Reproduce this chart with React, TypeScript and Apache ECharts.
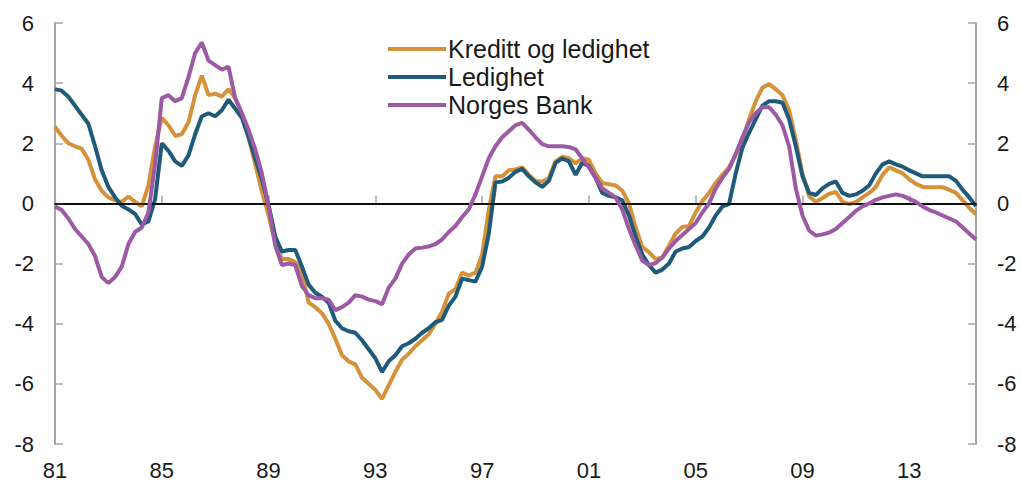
import React, { useEffect, useRef } from "react";
import * as echarts from "echarts";

const startYear = 1981;
const quarterCount = 139; // 1981K1 .. 2015K3
const tickLabels = ["81", "85", "89", "93", "97", "01", "05", "09", "13"];

const kredittOgLedighet = [
  2.55, 2.25, 2.0, 1.9, 1.82, 1.45, 0.8, 0.42, 0.2, 0.1, 0.05, 0.23, 0.05, -0.1, 0.6, 1.9,
  2.85, 2.6, 2.25, 2.3, 2.7, 3.6, 4.25, 3.6, 3.65, 3.55, 3.8, 3.5, 3.0, 2.2, 1.3, 0.4,
  -0.4, -1.3, -1.85, -1.85, -1.95, -2.3, -3.3, -3.45, -3.65, -4.0, -4.5, -5.05, -5.25, -5.35, -5.8, -6.0,
  -6.2, -6.5, -6.05, -5.6, -5.2, -5.0, -4.75, -4.55, -4.35, -4.0, -3.6, -3.0, -2.85, -2.3, -2.4, -2.3,
  -1.7, -0.2, 0.9, 0.9, 1.1, 1.13, 1.2, 0.95, 0.75, 0.72, 0.85, 1.4, 1.55, 1.5, 1.33, 1.5,
  1.45, 1.0, 0.68, 0.64, 0.6, 0.42, 0.0, -0.8, -1.45, -1.62, -1.85, -1.8, -1.4, -1.0, -0.78, -0.75,
  -0.3, 0.08, 0.35, 0.68, 0.95, 1.2, 1.6, 2.1, 2.8, 3.4, 3.85, 3.97, 3.8, 3.6, 3.1, 2.1,
  1.0, 0.24, 0.05, 0.18, 0.32, 0.38, 0.05, -0.02, 0.04, 0.2, 0.35, 0.55, 0.95, 1.2, 1.1, 1.0,
  0.8, 0.65, 0.55, 0.54, 0.54, 0.54, 0.45, 0.35, 0.1, -0.15, -0.36,
];

const ledighet = [
  3.8, 3.75, 3.55, 3.25, 2.95, 2.65, 1.9, 1.1, 0.55, 0.2, -0.08, -0.2, -0.35, -0.7, -0.6, 0.14,
  2.0, 1.75, 1.4, 1.25, 1.6, 2.3, 2.9, 3.0, 2.9, 3.1, 3.45, 3.15, 2.85, 2.2, 1.5, 0.8,
  -0.05, -1.1, -1.6, -1.55, -1.55, -2.1, -2.7, -2.97, -3.1, -3.3, -3.9, -4.15, -4.25, -4.3, -4.55, -4.85,
  -5.15, -5.6, -5.25, -5.05, -4.75, -4.65, -4.5, -4.3, -4.15, -3.95, -3.87, -3.4, -3.1, -2.5, -2.55, -2.6,
  -2.1, -1.0, 0.7, 0.73, 0.85, 1.05, 1.15, 0.9, 0.7, 0.55, 0.75, 1.35, 1.5, 1.4, 0.95, 1.35,
  1.24, 0.85, 0.35, 0.25, 0.2, 0.1, -0.4, -1.1, -1.7, -2.05, -2.3, -2.2, -2.0, -1.6, -1.5, -1.45,
  -1.25, -1.1, -0.8, -0.4, -0.1, -0.02, 1.0, 1.85, 2.35, 2.8, 3.25, 3.4, 3.4, 3.35, 2.8, 1.9,
  0.9, 0.35, 0.28, 0.5, 0.65, 0.73, 0.35, 0.25, 0.3, 0.42, 0.6, 1.0, 1.3, 1.4, 1.3, 1.22,
  1.1, 1.0, 0.9, 0.9, 0.9, 0.9, 0.9, 0.75, 0.45, 0.2, -0.09,
];

const norgesBank = [
  -0.1, -0.22, -0.5, -0.85, -1.1, -1.35, -1.75, -2.45, -2.65, -2.45, -2.1, -1.35, -0.95, -0.8, -0.3, 1.3,
  3.5, 3.6, 3.4, 3.5, 4.2, 5.0, 5.35, 4.75, 4.6, 4.45, 4.55, 3.5, 3.0, 2.45, 1.8, 1.0,
  -0.1, -1.4, -2.05, -2.0, -2.05, -2.75, -3.05, -3.15, -3.15, -3.2, -3.55, -3.45, -3.3, -3.05, -3.1, -3.2,
  -3.25, -3.35, -2.8, -2.5, -2.0, -1.7, -1.5, -1.47, -1.43, -1.35, -1.2, -0.95, -0.75, -0.45, -0.2, 0.3,
  0.9, 1.5, 1.9, 2.2, 2.4, 2.6, 2.68, 2.45, 2.2, 1.97, 1.9, 1.9, 1.9, 1.88, 1.8, 1.5,
  1.2, 0.85, 0.5, 0.35, 0.2, -0.2, -0.85, -1.4, -1.9, -2.05, -1.98, -1.8, -1.5, -1.25, -1.05, -0.85,
  -0.65, -0.3, 0.0, 0.5, 0.85, 1.15, 1.65, 2.2, 2.7, 3.0, 3.2, 3.2, 2.95, 2.6, 1.9, 0.5,
  -0.4, -0.9, -1.07, -1.03, -0.97, -0.85, -0.65, -0.45, -0.25, -0.1, 0.0, 0.12, 0.2, 0.25, 0.3, 0.25,
  0.15, 0.05, -0.1, -0.22, -0.3, -0.4, -0.5, -0.6, -0.8, -1.0, -1.2,
];

const seriesNames = ["Kreditt og ledighet", "Ledighet", "Norges Bank"];
const seriesColors = ["#D6923A", "#1F5A78", "#9C5AA5"];

const quarters: string[] = [];
for (let i = 0; i < quarterCount; i++) {
  quarters.push(`${startYear + Math.floor(i / 4)}K${(i % 4) + 1}`);
}

const FONT = "'Liberation Sans', Arial, sans-serif";
const TEXT = "#1a1a1a";
const AXIS = "#a6a6a6";

export default function App() {
  const ref = useRef<HTMLDivElement>(null);

  useEffect(() => {
    if (!ref.current) return;
    const chart = echarts.init(ref.current, null, { renderer: "svg" });
    const isTick = (i: number) => i % 16 === 0;
    const yAxisBase = {
      type: "value",
      min: -8,
      max: 6,
      interval: 2,
      splitLine: { show: false },
      axisLine: { show: true, lineStyle: { color: AXIS, width: 2 } },
      axisTick: { show: true, inside: true, length: 8, lineStyle: { color: AXIS, width: 1.5 } },
      axisLabel: { color: TEXT, fontSize: 22, fontFamily: FONT, margin: 21 },
    };
    const data = [kredittOgLedighet, ledighet, norgesBank];
    chart.setOption({
      animation: false,
      backgroundColor: "#ffffff",
      textStyle: { fontFamily: FONT },
      grid: { left: 55, right: 46, top: 23, bottom: 35, containLabel: false },
      legend: {
        orient: "vertical",
        left: 383,
        top: 31,
        icon: "rect",
        itemWidth: 58,
        itemHeight: 4,
        itemGap: 2,
        data: seriesNames,
        textStyle: { color: TEXT, fontSize: 25, fontFamily: FONT, lineHeight: 26, padding: [0, 0, 0, -3] },
      },
      xAxis: [
        {
          type: "category",
          data: quarters,
          boundaryGap: false,
          axisLine: { show: true, lineStyle: { color: AXIS, width: 2 } },
          axisTick: {
            show: true,
            inside: true,
            length: 8,
            interval: (i: number) => isTick(i) && i > 0,
            lineStyle: { color: AXIS, width: 1.5 },
          },
          axisLabel: {
            interval: (i: number) => isTick(i),
            formatter: (_v: string, i: number) => tickLabels[i / 16] ?? "",
            color: TEXT,
            fontSize: 22,
            fontFamily: FONT,
            margin: 15,
          },
          splitLine: { show: false },
        },
        {
          type: "category",
          position: "top",
          data: quarters,
          boundaryGap: false,
          axisLine: { show: true, lineStyle: { color: "#404040", width: 2 } },
          axisTick: { show: false },
          axisLabel: { show: false },
          splitLine: { show: false },
        },
      ],
      yAxis: [
        { ...yAxisBase, position: "left" },
        { ...yAxisBase, position: "right" },
      ],
      series: data.map((d, k) => ({
        name: seriesNames[k],
        type: "line",
        data: d,
        xAxisIndex: 0,
        yAxisIndex: 0,
        showSymbol: false,
        symbol: "none",
        color: seriesColors[k],
        lineStyle: { color: seriesColors[k], width: 4 },
        z: 3 + k,
        ...(k === 0
          ? {
              markLine: {
                silent: true,
                symbol: "none",
                label: { show: false },
                lineStyle: { color: "#000000", width: 1.5, type: "solid" },
                data: [{ yAxis: 0 }],
              },
            }
          : {}),
      })),
    });
    return () => chart.dispose();
  }, []);

  return (
    <div
      ref={ref}
      style={{ position: "fixed", left: 0, top: 0, width: 1022, height: 481, background: "#fff" }}
    />
  );
}
